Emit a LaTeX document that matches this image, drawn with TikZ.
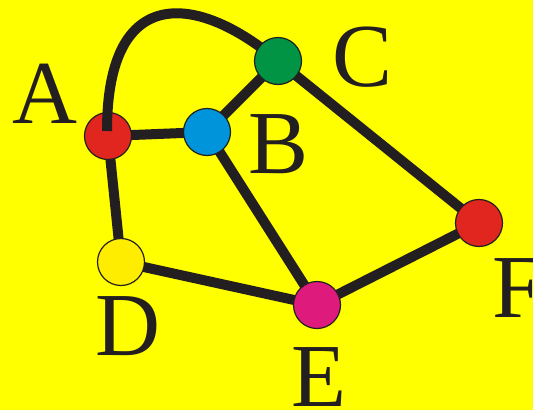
\documentclass[tikz,border=0pt]{standalone}
\usepackage{fontspec}
\setmainfont{Liberation Serif}
\usetikzlibrary{calc}
\definecolor{bgyellow}{HTML}{FFFF00}
\definecolor{edgeblack}{HTML}{231F20}
\definecolor{vred}{HTML}{E0261F}
\definecolor{vblue}{HTML}{0095DA}
\definecolor{vgreen}{HTML}{009444}
\definecolor{vyellow}{HTML}{FFED00}
\definecolor{vmagenta}{HTML}{DE1A7C}
\pgfdeclarelayer{bg}
\pgfdeclarelayer{fg}
\pgfsetlayers{bg,main,fg}

\begin{document}
\begin{tikzpicture}[x=1pt, y=-1pt,
    vertex/.style={circle, draw=edgeblack, line width=1.2pt, minimum size=47pt, inner sep=0pt},
    edge/.style={draw=edgeblack, line width=10pt},
    letter/.style={anchor=base west, inner sep=0pt, text=edgeblack, font=\fontsize{90}{90}\selectfont}]
    \useasboundingbox (0,0) rectangle (533,410);

    % vertices
    \node[vertex, fill=vred] (A) at (108,136) {};
    \node[vertex, fill=vblue] (B) at (207,132) {};
    \node[vertex, fill=vyellow] (D) at (121,262) {};
    \node[vertex, fill=vmagenta] (E) at (317,305) {};
    \node[vertex, fill=vred] (F) at (479,223) {};
    \begin{pgfonlayer}{fg}
        \node[vertex, fill=vgreen] (C) at (278,61) {};
    \end{pgfonlayer}

    % yellow ground and straight edges behind the vertices
    \begin{pgfonlayer}{bg}
        \fill[bgyellow] (0,0) rectangle (533,410);
        \foreach \u/\v in {A/B, A/D, B/C, B/E, C/F, D/E, E/F}
            \draw[edge] (\u.center) -- (\v.center);
    \end{pgfonlayer}

    % the bent edge runs over A and under C
    \draw[edge] ($(A.center)+(-1,-5)$) .. controls (107,-20) and (200,-5) .. (C.center);

    % labels
    \node[letter] (lA) at (12,123) {A};
    \node[letter] (lB) at (248.5,173) {B};
    \node[letter] (lC) at (332.5,86) {C};
    \node[letter] (lD) at (95.5,355) {D};
    \node[letter] (lE) at (291,406) {E};
    \node[letter] (lF) at (492,317) {F};
\end{tikzpicture}
\end{document}
